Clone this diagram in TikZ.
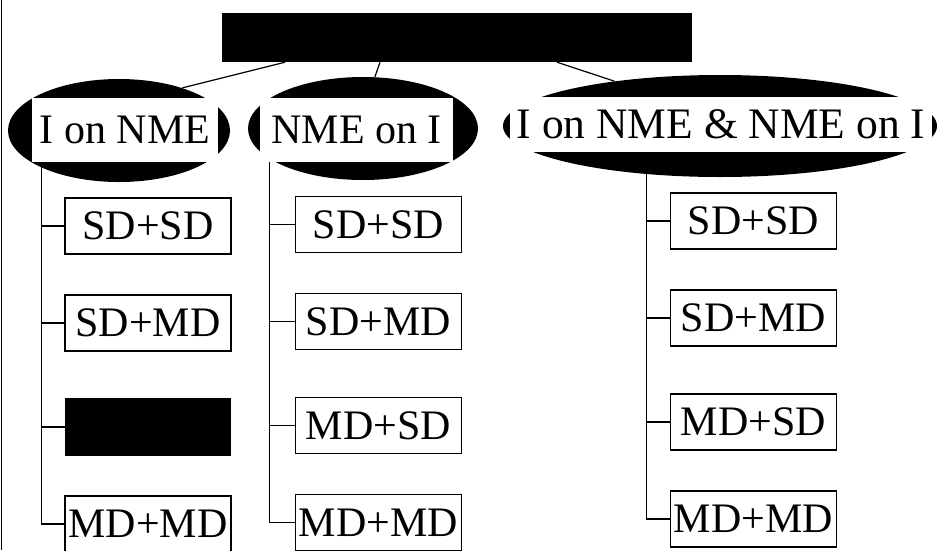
\documentclass[tikz,border=0pt]{standalone}
\usepackage{fontspec}
\setmainfont{Liberation Serif}
\usetikzlibrary{shapes.geometric}

\begin{document}
\begin{tikzpicture}[x=1pt,y=-1pt,
  blob/.style={ellipse,fill=black,inner sep=0pt},
  tag/.style={fill=white,inner sep=0pt,font=\fontsize{42}{48}\selectfont},
  leaf/.style={draw=black,fill=white,line width=1.2pt,minimum width=166pt,minimum height=56pt,inner sep=0pt,font=\fontsize{42}{48}\selectfont},
  hidden/.style={fill=black,inner sep=0pt},
  wire/.style={black,line width=1.2pt}]
\useasboundingbox (0,0) rectangle (943,550);
\draw [black,line width=1.5pt] (1.5,0) -- (1.5,550);
\node [hidden,minimum width=470pt,minimum height=49pt] (top) at (457,37.5) {};
% the three groups
\node [blob,minimum width=222pt,minimum height=103pt] (e1) at (119,130.5) {};
\node [blob,minimum width=230pt,minimum height=103pt] (e2) at (363,128.5) {};
\node [blob,minimum width=434pt,minimum height=102pt] (e3) at (720,126) {};
\node [tag,minimum width=186pt,minimum height=64pt] (t1) at (125,130) {I on NME};
\node [tag,minimum width=193pt,minimum height=64pt] (t2) at (356.5,130) {NME on I};
\node [tag,minimum width=422pt,minimum height=55pt,font=\fontsize{43.5}{48}\selectfont] (t3) at (721,124.5) {I on NME \& NME on I};
\draw [wire] ([xshift=-172pt]top.south) -- (e1.34);
\draw [wire] ([xshift=-77pt]top.south) -- (e2.77);
\draw [wire] ([xshift=100pt]top.south) -- (e3.157);
% first column
\node [leaf] (l11) at (148,226) {SD+SD};
\node [leaf] (l12) at (148,323) {SD+MD};
\node [hidden,minimum width=166pt,minimum height=58pt] (l13) at (148,427) {};
\node [leaf] (l14) at (148,524) {MD+MD};
% other columns
\foreach \c/\cx/\cy in {2/378.5/224.5,3/753.5/221}{
  \foreach \lab/\dy [count=\i] in {SD+SD/0,SD+MD/97,MD+SD/201,MD+MD/298}{
    \node [leaf] (l\c\i) at (\cx,\cy+\dy) {\lab};
  }
}
\coordinate (s1) at ([xshift=9.5pt]t1.south west);
\coordinate (s2) at ([xshift=10pt]t2.south west);
\coordinate (s3) at ([xshift=137pt]t3.south west);
\foreach \c in {1,2,3}{
  \draw [wire] (s\c) |- (l\c4.west);
  \foreach \i in {1,2,3}
    \draw [wire] (l\c\i.west) -- (l\c\i.west -| s\c);
}
\end{tikzpicture}
\end{document}
